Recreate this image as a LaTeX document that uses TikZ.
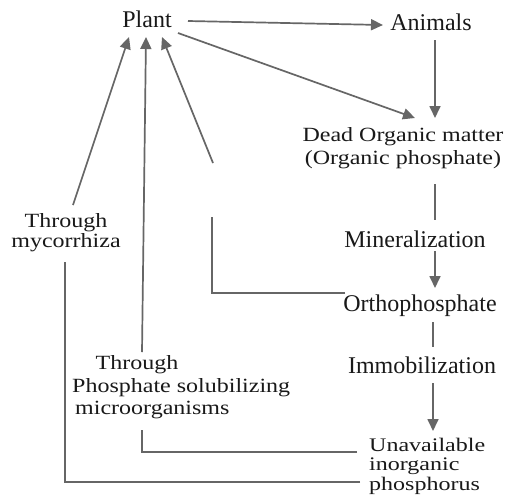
\documentclass[tikz,border=0pt]{standalone}
\usepackage{fontspec}
\setmainfont{Liberation Serif}
\usetikzlibrary{arrows.meta}
\definecolor{linecol}{gray}{0.40}
\definecolor{txtcol}{gray}{0.10}
\newcommand{\sq}[1]{\scalebox{1}[0.84]{#1}}
\newcommand{\sqq}[1]{\scalebox{1}[0.8]{#1}}
\tikzset{
  lbl/.style={inner sep=0pt, text=txtcol, font=\fontsize{24}{22}\selectfont},
  conn/.style={draw=linecol, line width=1.7pt},
  arr/.style={conn, -{Triangle[length=12pt,width=11pt]}, fill=linecol},
}
\begin{document}
\begin{tikzpicture}[x=1pt,y=-1pt]
\useasboundingbox (0,0) rectangle (506,499);
\fill[white] (0,0) rectangle (506,499);

% nodes
\node[lbl] (plant) at (147,19) {Plant};
\node[lbl] (animals) at (431,22) {Animals};
\node[lbl] (deadA) at (403,137) {\sq{Dead Organic matter}};
\node[lbl] (deadB) at (403,160) {\sq{(Organic phosphate)}};
\node[lbl] (mineral) at (415,239) {Mineralization};
\node[lbl] (ortho) at (420,306) {Orthophosphate};
\node[lbl] (immob) at (422,365) {Immobilization};
\node[lbl, anchor=west] (unavA) at (369,445) {\sqq{Unavailable}};
\node[lbl, anchor=west] (unavB) at (369,466) {\sqq{inorganic}};
\node[lbl, anchor=west] (unavC) at (369,486) {\sqq{phosphorus}};
\node[lbl] (mycoA) at (66,223) {\sq{Through}};
\node[lbl] (mycoB) at (66,243) {\sq{mycorrhiza}};
\node[lbl] (psmA) at (137,365) {\sq{Through}};
\node[lbl, anchor=west] (psmB) at (72,388) {\sq{Phosphate solubilizing}};
\node[lbl, anchor=west] (psmC) at (75,410) {\sq{microorganisms}};

% coordinates
\coordinate (pa1) at (188,21);
\coordinate (pa2) at (383,25);
\coordinate (pd1) at (178,33);
\coordinate (pd2) at (415,118);
\coordinate (ad1) at (435,40);
\coordinate (ad2) at (435,118);
\coordinate (dm1) at (435,184);
\coordinate (dm2) at (435,220);
\coordinate (mo1) at (435,251);
\coordinate (mo2) at (435,288);
\coordinate (oi1) at (433,322);
\coordinate (oi2) at (433,347);
\coordinate (iu1) at (433,383);
\coordinate (iu2) at (433,431);

\coordinate (my0) at (360,482);
\coordinate (my1) at (65,482);
\coordinate (my2) at (65,262);
\coordinate (my3) at (73,205);
\coordinate (my4) at (129,37);

\coordinate (ps0) at (357,452);
\coordinate (ps1) at (142,452);
\coordinate (ps2) at (142,430);
\coordinate (ps3) at (142,352);
\coordinate (ps4) at (146,37);

\coordinate (or0) at (345,293);
\coordinate (or1) at (212,293);
\coordinate (or2) at (212,217);
\coordinate (or3) at (213,163);
\coordinate (or4) at (162,37);

% connectors
\draw[arr] (pa1) -- (pa2);
\draw[arr] (pd1) -- (pd2);
\draw[arr] (ad1) -- (ad2);
\draw[conn] (dm1) -- (dm2);
\draw[arr] (mo1) -- (mo2);
\draw[conn] (oi1) -- (oi2);
\draw[arr] (iu1) -- (iu2);

\draw[conn] (my0) -- (my1) -- (my2);
\draw[arr] (my3) -- (my4);

\draw[conn] (ps0) -- (ps1) -- (ps2);
\draw[arr] (ps3) -- (ps4);

\draw[conn] (or0) -- (or1) -- (or2);
\draw[arr] (or3) -- (or4);
\end{tikzpicture}
\end{document}
